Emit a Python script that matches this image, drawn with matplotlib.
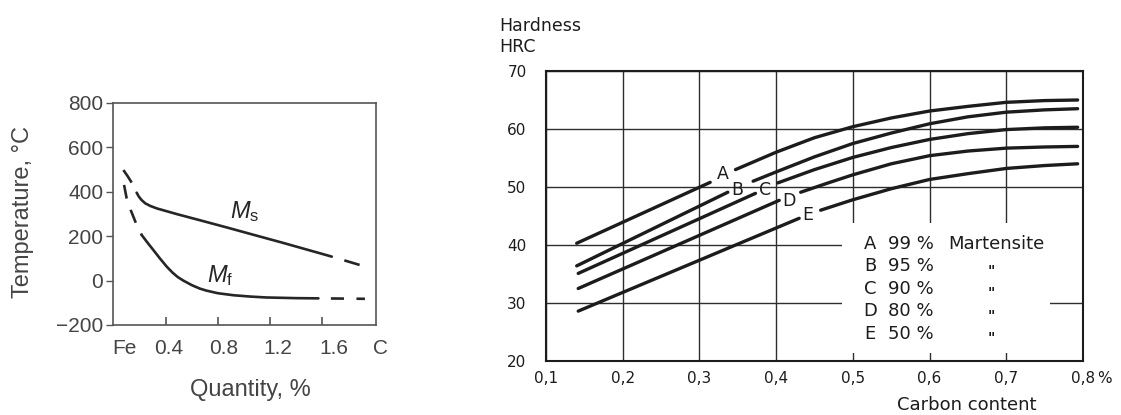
import numpy as np
import matplotlib.pyplot as plt
from matplotlib.patches import Rectangle

plt.rcParams['font.family'] = ['Liberation Sans', 'DejaVu Sans']
plt.rcParams['lines.scale_dashes'] = False
plt.rcParams['mathtext.fontset'] = 'custom'
plt.rcParams['mathtext.rm'] = 'Liberation Sans'
plt.rcParams['mathtext.it'] = 'Liberation Sans:italic'

# --- left: Ms / Mf temperature against carbon quantity ---
ms_x = [0.174, 0.19, 0.21, 0.24, 0.28, 0.33, 0.48, 0.66, 0.87, 1.05, 1.30, 1.675]
ms_y = [396, 379, 364, 348, 336, 325, 300, 272, 239, 210, 170, 108]
ms_lead_x = [0.072, 0.105, 0.136, 0.174]
ms_lead_y = [498, 470, 441, 396]
ms_ext_x = [1.675, 1.892]
ms_ext_y = [108, 70]

mf_x = [0.213, 0.26, 0.302, 0.35, 0.405, 0.45, 0.49, 0.533, 0.60, 0.66, 0.71,
        0.80, 0.92, 1.05, 1.17, 1.40, 1.572]
mf_y = [205, 169, 138, 102, 63, 36, 16, 0, -21, -36, -45,
        -57, -66, -72, -76, -79, -80]
mf_lead_x = [0.077, 0.097, 0.128, 0.169, 0.213]
mf_lead_y = [431, 371, 318, 258, 205]
mf_ext_x = [1.572, 1.93]
mf_ext_y = [-80, -82]

temp_ticks = [-200, 0, 200, 400, 600, 800]
temp_labels = ['\u2212200', '0', '200', '400', '600', '800']
qty_marks = [0.4, 0.8, 1.2, 1.6]
qty_labels = ['Fe', '0.4', '0.8', '1.2', '1.6', 'C']
qty_label_pos = [0.08, 0.423, 0.846, 1.261, 1.69, 2.046]

# --- right: hardness against carbon content ---
curve_names = ['A', 'B', 'C', 'D', 'E']
martensite_pct = [99, 95, 90, 80, 50]

# straight part below each curve label
low_start_x = [0.140, 0.140, 0.142, 0.142, 0.142]
low_start_y = [40.3, 36.4, 35.1, 32.5, 28.6]
low_end_x = [0.314, 0.337, 0.373, 0.404, 0.430]
low_end_y = [50.8, 49.1, 48.9, 47.7, 44.6]

# curved part above each curve label
hi_a_x = [0.347, 0.40, 0.45, 0.50, 0.55, 0.60, 0.65, 0.70, 0.75, 0.793]
hi_a_y = [53.0, 56.0, 58.5, 60.4, 61.9, 63.1, 63.9, 64.6, 64.9, 65.0]
hi_b_x = [0.370, 0.40, 0.45, 0.50, 0.55, 0.60, 0.65, 0.70, 0.75, 0.793]
hi_b_y = [51.0, 52.6, 55.2, 57.5, 59.3, 60.9, 62.1, 62.9, 63.3, 63.5]
hi_c_x = [0.402, 0.45, 0.50, 0.55, 0.60, 0.65, 0.70, 0.75, 0.793]
hi_c_y = [50.7, 53.0, 55.1, 56.8, 58.2, 59.2, 59.9, 60.2, 60.3]
hi_d_x = [0.432, 0.47, 0.50, 0.55, 0.60, 0.65, 0.70, 0.75, 0.793]
hi_d_y = [49.1, 50.8, 52.1, 54.0, 55.4, 56.2, 56.7, 56.9, 57.0]
hi_e_x = [0.458, 0.50, 0.55, 0.60, 0.65, 0.70, 0.75, 0.793]
hi_e_y = [46.0, 47.8, 49.7, 51.3, 52.3, 53.2, 53.7, 54.0]
hi_x = [hi_a_x, hi_b_x, hi_c_x, hi_d_x, hi_e_x]
hi_y = [hi_a_y, hi_b_y, hi_c_y, hi_d_y, hi_e_y]

label_x = [0.331, 0.349, 0.386, 0.417, 0.441]
label_y = [52.2, 49.5, 49.4, 47.6, 45.1]

hrc_ticks = [20, 30, 40, 50, 60, 70]
carbon_ticks = [0.1, 0.2, 0.3, 0.4, 0.5, 0.6, 0.7, 0.8]
carbon_labels = ['0,1', '0,2', '0,3', '0,4', '0,5', '0,6', '0,7', '0,8']

fig = plt.figure(figsize=(11.21, 4.15), dpi=100)
W, H = 1121, 415

# ---------- left panel ----------
ink = '#262626'
grey = '#444444'
ax1 = fig.add_axes([113 / W, 1 - 325 / H, 263 / W, 222 / H])
ax1.set_xlim(-0.008, 2.015)
ax1.set_ylim(-200, 800)

ax1.plot(ms_x, ms_y, color=ink, lw=1.9, solid_capstyle='round')
ax1.plot(ms_lead_x, ms_lead_y, color=ink, lw=1.9, ls=(0, (10.8, 7.9)))
ax1.plot(ms_ext_x, ms_ext_y, color=ink, lw=1.9, ls=(11.5, (11.5, 9.4)))
ax1.plot(mf_x, mf_y, color=ink, lw=1.9, solid_capstyle='round')
ax1.plot(mf_lead_x, mf_lead_y, color=ink, lw=1.9, ls=(0, (10.0, 8.6)))
ax1.plot(mf_ext_x, mf_ext_y, color=ink, lw=1.9, ls=(9.4, (9.4, 9.0)))

ax1.text(0.89, 281, r'$M_\mathrm{s}$', fontsize=17, color=ink, ha='left', va='baseline')
ax1.text(0.713, -5, r'$M_\mathrm{f}$', fontsize=17, color=ink, ha='left', va='baseline')

ax1.set_yticks(temp_ticks)
ax1.set_yticklabels(temp_labels)
ax1.tick_params(axis='y', direction='out', length=5, width=1, color='#555555',
                labelsize=15, labelcolor=grey, pad=2)
ax1.set_xticks(qty_marks)
ax1.set_xticklabels([])
ax1.tick_params(axis='x', direction='in', length=6, width=1.2, color='#555555')
for pos, lab in zip(qty_label_pos, qty_labels):
    ax1.annotate(lab, xy=(pos, 0), xycoords=ax1.get_xaxis_transform(),
                 xytext=(0, -10), textcoords='offset points', ha='center', va='top',
                 fontsize=15, color=grey, annotation_clip=False)
for s in ax1.spines.values():
    s.set_color('#555555')
    s.set_linewidth(1.2)

fig.text(23 / W, 1 - 212 / H, 'Temperature, \u00b0C', rotation=90, ha='center', va='center',
         fontsize=17, color=grey)
fig.text(250 / W, 1 - 390 / H, 'Quantity, %', ha='center', va='center', fontsize=17, color=grey)

# ---------- right panel ----------
dark = '#1c1c1c'
ax2 = fig.add_axes([546 / W, 1 - 361 / H, 537 / W, 290 / H])
ax2.set_xlim(0.1, 0.8)
ax2.set_ylim(20, 70)
ax2.set_axisbelow(True)
ax2.grid(True, color='#2e2e2e', lw=1.0)

# legend area blanks out the grid behind it
ax2.add_patch(Rectangle((0.486, 21.4), 0.271, 22.4, facecolor='white', edgecolor='none', zorder=1))
ax2.add_patch(Rectangle((0.757, 34.5), 0.043, 9.3, facecolor='white', edgecolor='none', zorder=1))

for i in range(len(curve_names)):
    ax2.plot([low_start_x[i], low_end_x[i]], [low_start_y[i], low_end_y[i]],
             color=dark, lw=2.4, solid_capstyle='round', zorder=2)
    ax2.plot(hi_x[i], hi_y[i], color=dark, lw=2.4, solid_capstyle='round', zorder=2)
    ax2.text(label_x[i], label_y[i], curve_names[i], family='DejaVu Sans', fontsize=12.5,
             color=dark, ha='center', va='center', zorder=3)

row_y = np.linspace(40.2, 24.7, len(curve_names))
for i in range(len(curve_names)):
    ax2.text(0.5224, row_y[i], curve_names[i], family='DejaVu Sans', fontsize=13,
             color=dark, ha='center', va='center', zorder=3)
    ax2.text(0.546, row_y[i], f'{martensite_pct[i]} %', family='DejaVu Sans', fontsize=13,
             color=dark, ha='left', va='center', zorder=3)
    if i == 0:
        ax2.text(0.624, row_y[i], 'Martensite', family='DejaVu Sans', fontsize=13,
                 color=dark, ha='left', va='center', zorder=3)
    else:
        ax2.text(0.680, row_y[i] - 0.8, '"', family='DejaVu Sans', fontsize=10,
                 fontweight='bold', color=dark, ha='center', va='center', zorder=3)

ax2.set_yticks(hrc_ticks)
ax2.set_xticks(carbon_ticks)
ax2.set_xticklabels(carbon_labels)
ax2.tick_params(axis='both', length=0, labelsize=11, labelcolor=dark)
ax2.tick_params(axis='y', pad=14)
ax2.tick_params(axis='x', pad=7)
for lab in ax2.get_xticklabels() + ax2.get_yticklabels():
    lab.set_family('DejaVu Sans')
ax2.annotate('%', xy=(1.026, 0), xycoords='axes fraction', xytext=(0, -7),
             textcoords='offset points', ha='left', va='top', family='DejaVu Sans',
             fontsize=11, color=dark, annotation_clip=False)
for s in ax2.spines.values():
    s.set_color(dark)
    s.set_linewidth(1.5)

fig.text(499 / W, 1 - 26 / H, 'Hardness', family='DejaVu Sans', fontsize=12.5,
         color=dark, ha='left', va='center')
fig.text(499 / W, 1 - 47 / H, 'HRC', family='DejaVu Sans', fontsize=12.5,
         color=dark, ha='left', va='center')
fig.text(897 / W, 1 - 405 / H, 'Carbon content', family='DejaVu Sans', fontsize=13,
         color=dark, ha='left', va='center')

fig.savefig('out.png', dpi=100, facecolor='white')
